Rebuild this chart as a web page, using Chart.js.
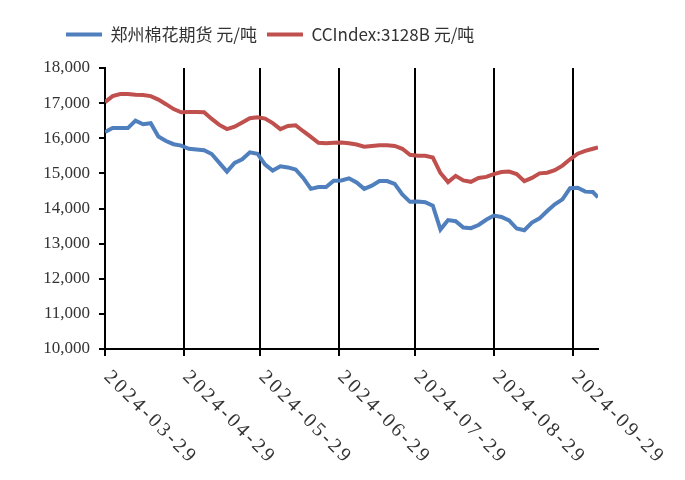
<!DOCTYPE html>
<html>
<head>
<meta charset="utf-8">
<script src="https://cdn.jsdelivr.net/npm/chart.js@4"></script>
<style>
  body { margin: 0; background: #fff; }
</style>
</head>
<body>
<canvas id="chart" width="685" height="480"></canvas>
<script>
// sample dates (every ~3 days), tick dates and both series
const dates = [
  '2024-03-29', '2024-04-01', '2024-04-04', '2024-04-07', '2024-04-10', '2024-04-13', '2024-04-16',
  '2024-04-19', '2024-04-22', '2024-04-25', '2024-04-28', '2024-05-01', '2024-05-04', '2024-05-07',
  '2024-05-10', '2024-05-13', '2024-05-16', '2024-05-19', '2024-05-22', '2024-05-25', '2024-05-28',
  '2024-05-31', '2024-06-03', '2024-06-06', '2024-06-09', '2024-06-12', '2024-06-15', '2024-06-18',
  '2024-06-21', '2024-06-24', '2024-06-27', '2024-06-30', '2024-07-03', '2024-07-06', '2024-07-09',
  '2024-07-12', '2024-07-15', '2024-07-18', '2024-07-21', '2024-07-24', '2024-07-27', '2024-07-30',
  '2024-08-02', '2024-08-05', '2024-08-08', '2024-08-11', '2024-08-14', '2024-08-17', '2024-08-20',
  '2024-08-23', '2024-08-26', '2024-08-29', '2024-09-01', '2024-09-04', '2024-09-07', '2024-09-10',
  '2024-09-13', '2024-09-16', '2024-09-19', '2024-09-22', '2024-09-25', '2024-09-28', '2024-10-01',
  '2024-10-04', '2024-10-07', '2024-10-09'
];
const zhengzhou = [
  16180, 16290, 16290, 16290, 16500, 16400, 16430,
  16050, 15920, 15830, 15790, 15700, 15680, 15660,
  15550, 15300, 15050, 15300, 15400, 15600, 15560,
  15250, 15080, 15200, 15170, 15110, 14870, 14560,
  14610, 14610, 14790, 14800, 14860, 14740, 14560,
  14650, 14780, 14780, 14700, 14400, 14190, 14200,
  14180, 14080, 13400, 13670, 13640, 13460, 13440,
  13530, 13680, 13800, 13760, 13660, 13430, 13380,
  13600, 13720, 13930, 14120, 14260, 14580, 14590,
  14480, 14470, 14320
];
const ccindex = [
  17030, 17200, 17260, 17260, 17240, 17230, 17200,
  17100, 16970, 16830, 16740, 16750, 16750, 16740,
  16550, 16380, 16260, 16330, 16450, 16570, 16600,
  16560, 16430, 16260, 16350, 16370, 16200, 16040,
  15870, 15860, 15870, 15880, 15860, 15820, 15760,
  15780, 15800, 15800, 15780, 15700, 15530, 15500,
  15500, 15450, 15010, 14750, 14930, 14800, 14760,
  14870, 14900, 14980, 15040, 15050, 14980, 14780,
  14870, 15000, 15020, 15090, 15220, 15400, 15560,
  15640, 15700, 15740
];
const tickLabels = ['2024-03-29', '2024-04-29', '2024-05-29', '2024-06-29', '2024-07-29', '2024-08-29', '2024-09-29'];
const yTicks = [10000, 11000, 12000, 13000, 14000, 15000, 16000, 17000, 18000];

const DAY = 86400000;
const t0 = Date.parse(dates[0]);
const toDay = s => (Date.parse(s) - t0) / DAY;
const dayValues = dates.map(toDay);
const tickDays = tickLabels.map(toDay);

const blue = '#4f7fbd';
const red = '#c0504d';

// rotated date labels running down to the right, as in the original
const dateLabels = {
    id: 'dateLabels',
    afterDraw(chart) {
        const ctx = chart.ctx;
        const x = chart.scales.x;
        ctx.save();
        ctx.font = '20px "Liberation Serif"';
        ctx.letterSpacing = '3px';
        ctx.fillStyle = '#333';
        ctx.textAlign = 'left';
        ctx.textBaseline = 'middle';
        tickLabels.forEach((lab, i) => {
            const px = x.getPixelForValue(tickDays[i]);
            ctx.save();
            ctx.translate(px + 2, x.bottom + 18);
            ctx.rotate(Math.PI / 4);
            ctx.fillText(lab, 0, 0);
            ctx.restore();
        });
        ctx.restore();
    }
};

// legend sits left of centre in the original
const legendShift = {
    id: 'legendShift',
    beforeInit(chart) {
        const fit = chart.legend.fit;
        chart.legend.fit = function () {
            fit.call(this);
            this.height = 52;
        };
    },
    afterLayout(chart) {
        chart.legend.left = 56;
    }
};

new Chart(document.getElementById('chart'), {
    type: 'line',
    data: {
        datasets: [
            {
                label: '郑州棉花期货 元/吨',
                data: zhengzhou.map((v, i) => ({ x: dayValues[i], y: v })),
                borderColor: blue,
                backgroundColor: blue,
                borderWidth: 4,
                pointRadius: 0,
                tension: 0
            },
            {
                label: 'CCIndex:3128B 元/吨',
                data: ccindex.map((v, i) => ({ x: dayValues[i], y: v })),
                borderColor: red,
                backgroundColor: red,
                borderWidth: 4,
                pointRadius: 0,
                tension: 0
            }
        ]
    },
    options: {
        responsive: false,
        animation: false,
        layout: { padding: { top: 16, left: 0, right: 87, bottom: 124 } },
        plugins: {
            tooltip: { enabled: false },
            legend: {
                position: 'top',
                align: 'start',
                labels: {
                    usePointStyle: true,
                    pointStyle: 'line',
                    pointStyleWidth: 36,
                    padding: 10,
                    color: '#333',
                    font: { family: '"Noto Sans CJK SC"', size: 17 }
                }
            }
        },
        scales: {
            x: {
                type: 'linear',
                min: 0,
                max: toDay('2024-10-09'),
                afterBuildTicks: scale => {
                    scale.ticks = tickDays.map(v => ({ value: v }));
                },
                grid: {
                    color: '#000',
                    lineWidth: 2,
                    drawOnChartArea: true,
                    drawTicks: true,
                    tickLength: 7
                },
                border: { display: true, color: '#000', width: 2 },
                ticks: { display: false }
            },
            y: {
                min: 10000,
                max: 18000,
                afterBuildTicks: scale => {
                    scale.ticks = yTicks.map(v => ({ value: v }));
                },
                afterFit: scale => {
                    scale.width = 105;
                },
                grid: {
                    color: '#000',
                    lineWidth: 2,
                    drawOnChartArea: false,
                    drawTicks: true,
                    tickLength: 6
                },
                border: { display: true, color: '#000', width: 2 },
                ticks: {
                    padding: 9,
                    color: '#333',
                    font: { family: '"Liberation Serif"', size: 17 },
                    callback: v => v.toLocaleString('en-US')
                }
            }
        }
    },
    plugins: [dateLabels, legendShift]
});
</script>
</body>
</html>
